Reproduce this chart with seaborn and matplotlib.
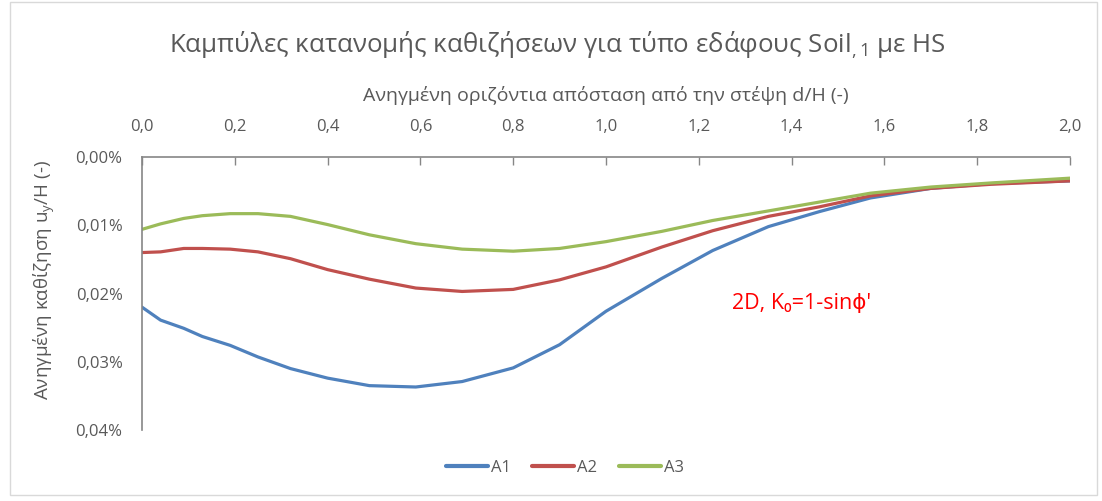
import numpy as np
import pandas as pd
import matplotlib
matplotlib.use("Agg")
import matplotlib.pyplot as plt
import matplotlib.ticker as mticker
from matplotlib.patches import Rectangle
import seaborn as sns

# Normalised horizontal distance from the crest d/H (-)
d_over_h = [0.00, 0.04, 0.09, 0.13, 0.19, 0.25, 0.32, 0.40, 0.49, 0.59, 0.69,
            0.80, 0.90, 1.00, 1.12, 1.23, 1.35, 1.46, 1.57, 1.70, 1.83, 2.00]

# Normalised settlement u_y/H in percent
a1 = [0.0220, 0.0239, 0.0251, 0.0263, 0.0276, 0.0293, 0.0310, 0.0324, 0.0335, 0.0337, 0.0329,
      0.0309, 0.0275, 0.0226, 0.0178, 0.0137, 0.0102, 0.0080, 0.0060, 0.0046, 0.0039, 0.0035]
a2 = [0.0140, 0.0139, 0.0134, 0.0134, 0.0135, 0.0139, 0.0149, 0.0165, 0.0179, 0.0192, 0.0197,
      0.0194, 0.0180, 0.0161, 0.0132, 0.0108, 0.0087, 0.0073, 0.0057, 0.0046, 0.0040, 0.0035]
a3 = [0.0106, 0.0098, 0.0090, 0.0086, 0.0083, 0.0083, 0.0087, 0.0099, 0.0114, 0.0127, 0.0135,
      0.0138, 0.0134, 0.0124, 0.0109, 0.0093, 0.0079, 0.0066, 0.0053, 0.0044, 0.0038, 0.0031]

series_names = ["A1", "A2", "A3"]
colors = ["#4F81BD", "#C0504D", "#9BBB59"]
x_ticks = [0.0, 0.2, 0.4, 0.6, 0.8, 1.0, 1.2, 1.4, 1.6, 1.8, 2.0]
y_ticks = [0.00, 0.01, 0.02, 0.03, 0.04]

df = pd.DataFrame({
    "d": d_over_h * 3,
    "u": a1 + a2 + a3,
    "series": [n for n in series_names for _ in d_over_h],
})

sns.set_theme(style="white")
plt.rcParams["font.family"] = ["Open Sans", "DejaVu Sans"]
plt.rcParams["mathtext.fontset"] = "custom"
plt.rcParams["mathtext.rm"] = "Open Sans"
plt.rcParams["mathtext.it"] = "Open Sans"
plt.rcParams["mathtext.default"] = "regular"

text_grey = "#595959"
axis_grey = "#868686"

fig = plt.figure(figsize=(11.02, 5.01), dpi=100)
ax = fig.add_axes([142 / 1102, 1 - 430 / 501, (1070 - 142) / 1102, (430 - 157) / 501])

sns.lineplot(data=df, x="d", y="u", hue="series", palette=colors,
             linewidth=2.3, ax=ax, sort=False)

ax.set_xlim(0, 2.0)
ax.set_ylim(0.04, 0.0)
ax.set_xticks(x_ticks)
ax.set_yticks(y_ticks)
ax.xaxis.set_major_formatter(mticker.FuncFormatter(lambda v, p: f"{v:.1f}".replace(".", ",")))
ax.yaxis.set_major_formatter(mticker.FuncFormatter(lambda v, p: f"{v:.2f}%".replace(".", ",")))
ax.xaxis.tick_top()
ax.xaxis.set_label_position("top")
ax.tick_params(axis="both", direction="in", length=6, width=1, color=axis_grey,
               labelsize=12, labelcolor=text_grey)
ax.tick_params(axis="x", pad=16)
ax.tick_params(axis="y", pad=14)

for side in ("right", "bottom"):
    ax.spines[side].set_visible(False)
for side in ("left", "top"):
    ax.spines[side].set_color(axis_grey)
    ax.spines[side].set_linewidth(1.2)

ax.set_xlabel("Ανηγμένη οριζόντια απόσταση από την στέψη d/H (-)",
              fontsize=14, color=text_grey, labelpad=13)
ax.set_ylabel("Ανηγμένη καθίζηση u$_y$/H (-)", fontsize=13.5, color=text_grey)
ax.yaxis.set_label_coords(-0.092, 0.548)

fig.text(557 / 1102, 1 - 45 / 501,
         "Καμπύλες κατανομής καθιζήσεων για τύπο εδάφους Soil$_{,1}$ με HS",
         ha="center", va="center", fontsize=18.6, color=text_grey)

# Plain text (no mathtext) so missing glyphs fall back to DejaVu Sans
ax.text(1.422, 0.0214, "2D, K\u2080=1-sin\u03d5'", color="#FF0000", fontsize=15.5,
        ha="center", va="center", family=["Open Sans", "DejaVu Sans"])

sns.move_legend(ax, "center", bbox_to_anchor=(565 / 1102, 1 - 468 / 501),
                bbox_transform=fig.transFigure, ncol=3, frameon=False, title=None,
                fontsize=12, handlelength=2.5, columnspacing=1.3, handletextpad=0.2)
for t in ax.get_legend().get_texts():
    t.set_color(text_grey)
for h in ax.get_legend().get_lines():
    h.set_linewidth(3)

fig.patches.append(Rectangle((10 / 1102, 1 - 495 / 501), 1087 / 1102, 493 / 501,
                             transform=fig.transFigure, fill=False,
                             edgecolor="#D9D9D9", linewidth=1))

fig.savefig("out.png", dpi=100, facecolor="white")
